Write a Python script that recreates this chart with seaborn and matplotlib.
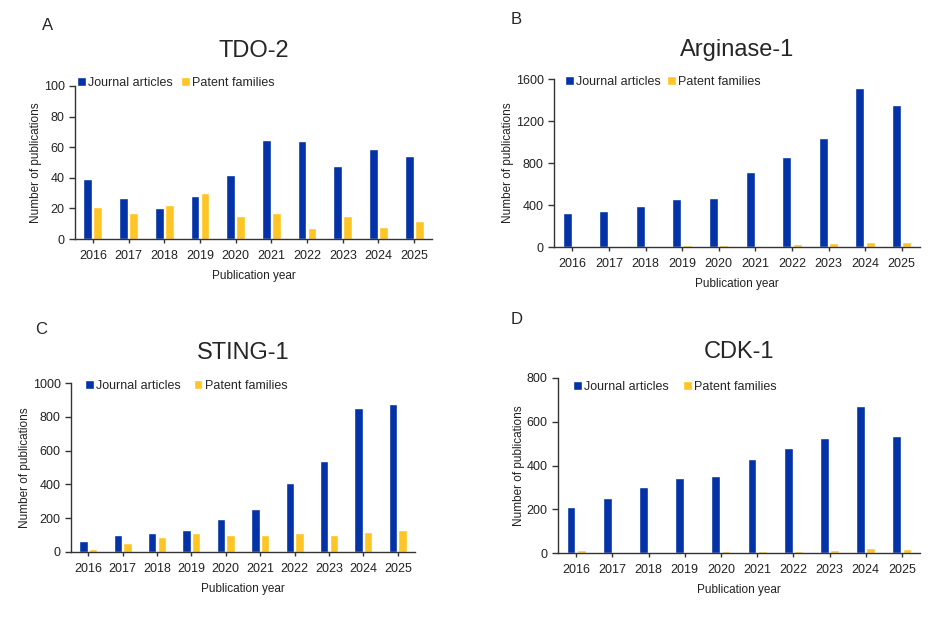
import numpy as np
import pandas as pd
import seaborn as sns
import matplotlib.pyplot as plt

years = ['2016', '2017', '2018', '2019', '2020', '2021', '2022', '2023', '2024', '2025']

tdo2_journal = [39, 27, 20, 28, 42, 65, 64, 48, 59, 54]
tdo2_patent = [21, 17, 22, 30, 15, 17, 7, 15, 8, 12]

arg1_journal = [320, 340, 390, 455, 470, 715, 855, 1040, 1510, 1350]
arg1_patent = [5, 10, 5, 20, 20, 10, 25, 40, 45, 45]

sting1_journal = [65, 103, 115, 130, 195, 253, 408, 537, 850, 873]
sting1_patent = [15, 52, 88, 110, 103, 98, 113, 98, 118, 130]

cdk1_journal = [210, 250, 302, 342, 353, 430, 478, 527, 671, 535]
cdk1_patent = [12, 0, 5, 0, 10, 10, 10, 15, 22, 18]

series_names = ['Journal articles', 'Patent families']
blue = '#0333A6'
yellow = '#FFC524'

sns.set_theme(style='white')
plt.rcParams['font.family'] = ['Liberation Sans', 'DejaVu Sans']

W, H = 936, 640
fig = plt.figure(figsize=(W / 100, H / 100), dpi=100)


def make_axes(left, top, right, bottom):
    # pixel box -> figure fraction
    return fig.add_axes([left / W, 1 - bottom / H, (right - left) / W, (bottom - top) / H])


def panel(ax, journal, patent, title, letter, ymax, ystep, letter_xy, title_y, legend_xy, colsp):
    df = pd.DataFrame({
        'Year': years * 2,
        'Count': journal + patent,
        'Type': [series_names[0]] * len(years) + [series_names[1]] * len(years),
    })
    sns.barplot(data=df, x='Year', y='Count', hue='Type', palette=[blue, yellow],
                width=0.56, gap=0.12, ax=ax, saturation=1)
    ax.set_xlim(-0.5, len(years) - 0.5)
    ax.set_ylim(0, ymax)
    ax.set_yticks(np.arange(0, ymax + 1, ystep))
    ax.tick_params(axis='x', length=3, width=1, direction='out', labelsize=9, pad=5,
                   color='#333333', labelcolor='#222222', bottom=True)
    ax.tick_params(axis='y', length=4, width=1, direction='out', labelsize=9, color='#333333',
                   labelcolor='#222222', left=True)
    for s in ['top', 'right']:
        ax.spines[s].set_visible(False)
    for s in ['left', 'bottom']:
        ax.spines[s].set_color('#333333')
        ax.spines[s].set_linewidth(1)
    ax.set_xlabel('Publication year', fontsize=8.5, labelpad=6, color='#222222')
    ax.set_ylabel('Number of publications', fontsize=8.5, labelpad=1, color='#222222')
    ax.legend(loc='center left', bbox_to_anchor=(legend_xy[0] / W, 1 - legend_xy[1] / H),
              bbox_transform=fig.transFigure, ncol=2, frameon=False,
              fontsize=9, handlelength=0.7, handleheight=0.7, handletextpad=0.2,
              columnspacing=colsp, borderaxespad=0, borderpad=0)
    fig.text(letter_xy[0] / W, 1 - letter_xy[1] / H, letter, fontsize=12,
             ha='left', va='center')
    pos = ax.get_position()
    fig.text(pos.x0 + pos.width / 2, 1 - title_y / H, title, fontsize=17,
             ha='center', va='center')


axA = make_axes(75, 86, 432, 239)
panel(axA, tdo2_journal, tdo2_patent, 'TDO-2', 'A', 100, 20, (42, 25), 51, (77, 83), 0.65)

axB = make_axes(554, 79, 920, 247)
panel(axB, arg1_journal, arg1_patent, 'Arginase-1', 'B', 1600, 400, (511, 19), 50, (565, 82), 0.5)

axC = make_axes(71, 383, 415, 552)
panel(axC, sting1_journal, sting1_patent, 'STING-1', 'C', 1000, 200, (35, 330), 353, (85, 386), 1.0)

axD = make_axes(558, 378, 920, 553)
panel(axD, cdk1_journal, cdk1_patent, 'CDK-1', 'D', 800, 200, (511, 320), 352, (573, 387), 1.1)

fig.savefig('out.png', dpi=100)
